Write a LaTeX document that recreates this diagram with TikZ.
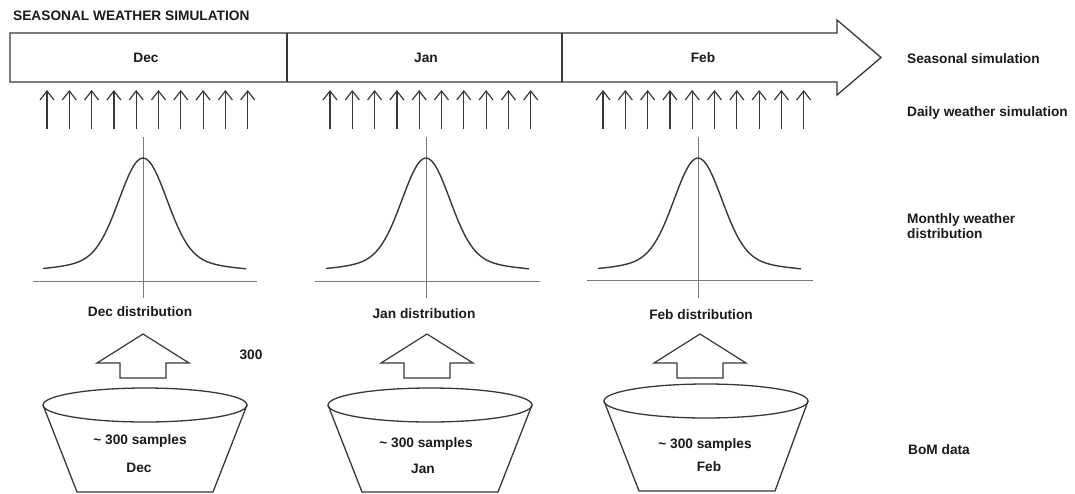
\documentclass[tikz,border=0pt]{standalone}
\usepackage{fontspec}
\setmainfont{Liberation Sans}
\usetikzlibrary{arrows.meta}
\definecolor{ink}{HTML}{1A1A1A}
\definecolor{linegray}{HTML}{383838}
\definecolor{axisgray}{HTML}{7A7A7A}
\tikzset{
    bold-text/.style = {text=ink, font=\bfseries\fontsize{13.7}{14.5}\selectfont, inner sep=0pt},
    label-text/.style = {bold-text, text depth=0pt},
    side-label/.style = {label-text, anchor=west},
    frame-line/.style = {draw=linegray, line width=1.3pt},
    small-arrow/.style = {draw=linegray, line width=1.2pt, -{Straight Barb[length=9pt,width=14pt]}},
    axis-line/.style = {draw=axisgray, line width=1pt},
    bell-curve/.style = {draw=linegray, line width=1.4pt},
    block-arrow/.style = {draw=linegray, line width=1.2pt, fill=white},
}

\begin{document}
\begin{tikzpicture}[x=1pt, y=-1pt]
\useasboundingbox (0,0) rectangle (1075,493);
\node[label-text, anchor=west] (title) at (13,15.5) {SEASONAL WEATHER SIMULATION};

\draw[frame-line] (10,33) -- (837,33) -- (837,20) -- (881,57.5) -- (837,95) -- (837,82) -- (10,82) -- cycle;
\draw[frame-line] (287,33) -- (287,82) (562,33) -- (562,82);
\node[label-text] (dec) at (146,57.5) {Dec};
\node[label-text] (jan) at (426,57.5) {Jan};
\node[label-text] (feb) at (703,57.5) {Feb};

\foreach \xs/\m in {47/dec, 330/jan, 603/feb}
  \foreach \i in {0,...,9} {
    \coordinate (\m-day-\i) at (\xs+22.3*\i,129);
    \draw[small-arrow] (\m-day-\i) -- ++(0,-39);
  }

\foreach \cx/\xl/\xr/\yh in {143/33/257/281, 426/315/540/281, 698/587/813/280} {
  \draw[axis-line] (\xl,\yh) -- (\xr,\yh) (\cx,137) -- (\cx,298);
  \draw[bell-curve] plot[domain=-100:103, samples=70] ({\cx+\x},{272-100*exp(-\x*\x/1100)-14*exp(-\x*\x/7200)});
}
\node[label-text] (dec-dist) at (140,312) {Dec distribution};
\node[label-text] (jan-dist) at (424,314) {Jan distribution};
\node[label-text] (feb-dist) at (701,315) {Feb distribution};
\node[label-text] (count) at (251,355) {300};

\foreach \cx in {143, 427, 700}
  \draw[block-arrow] (\cx,334) -- (\cx+46,363) -- (\cx+23,363) -- (\cx+23,378) -- (\cx-23,378) -- (\cx-23,363) -- (\cx-46,363) -- cycle;

\foreach \cx/\cy/\bx/\by in {145/405/145/492, 430/405/430/492, 706/401/707/491} {
  \draw[frame-line] (\cx-102,\cy) -- (\bx-68,\by) -- (\bx+68,\by) -- (\cx+102,\cy);
  \draw[frame-line] (\cx,\cy) ellipse [x radius=102, y radius=17];
}
\node[label-text] (dec-samples) at (140,440) {\textasciitilde{} 300 samples};
\node[label-text] (dec-data) at (139,468) {Dec};
\node[label-text] (jan-samples) at (426,443) {\textasciitilde{} 300 samples};
\node[label-text] (jan-data) at (423,469) {Jan};
\node[label-text] (feb-samples) at (705,444) {\textasciitilde{} 300 samples};
\node[label-text] (feb-data) at (709,467) {Feb};

\node[side-label] (seasonal) at (907,59) {Seasonal simulation};
\node[side-label] (daily) at (907,112) {Daily weather simulation};
\node[bold-text, anchor=west, align=left] (monthly) at (907,226) {Monthly weather\\distribution};
\node[side-label] (bom) at (908,450) {BoM data};
\end{tikzpicture}
\end{document}
